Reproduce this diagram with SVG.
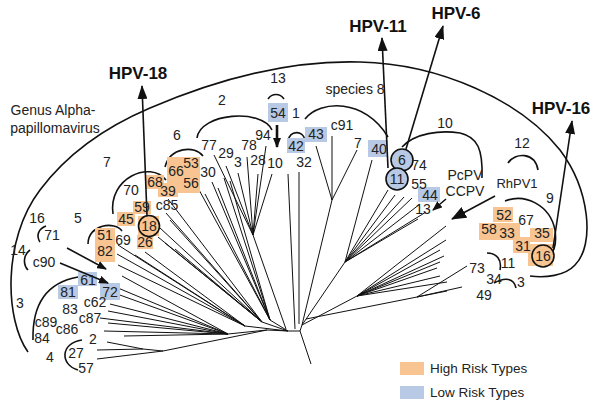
<svg xmlns="http://www.w3.org/2000/svg" width="596" height="404" viewBox="0 0 596 404">
<style>
.t{font-family:"Liberation Sans",Arial,sans-serif;font-size:14px;fill:#222;text-anchor:middle}
.b{font-family:"Liberation Sans",Arial,sans-serif;font-size:17px;font-weight:bold;fill:#111;text-anchor:middle}
.br{fill:none;stroke:#111;stroke-width:1.6}
.tr{fill:none;stroke:#111;stroke-width:1}
.ar{fill:none;stroke:#111;stroke-width:1.6}
.hi{fill:#f8c592}
.lo{fill:#b7c9e4}
.cir{stroke:#111;stroke-width:1.6}
</style>
<defs>
<marker id="big" viewBox="0 0 14 10" refX="13" refY="5" markerWidth="14" markerHeight="10" markerUnits="userSpaceOnUse" orient="auto"><path d="M0,0 L14,5 L0,10 z" fill="#111"/></marker>
<marker id="sm" viewBox="0 0 10 8" refX="9" refY="4" markerWidth="10" markerHeight="8" markerUnits="userSpaceOnUse" orient="auto"><path d="M0,0 L10,4 L0,8 z" fill="#111"/></marker>
<marker id="mid" viewBox="0 0 15 12" refX="14" refY="6" markerWidth="15" markerHeight="12" markerUnits="userSpaceOnUse" orient="auto"><path d="M0,0 L15,6 L0,12 z" fill="#111"/></marker>
</defs>
<rect width="596" height="404" fill="#fff"/>

<g id="tree" class="tr">
<path d="M300,331 L311,364 M288,331 L300,331 L302,325"/>
<path d="M228,334 L267,330 L288,331 M122,276 L228,334 M118,288 L228,334 M117,294 L228,334 M110,304 L228,334 M108,311 L228,334 M100,318 L228,334 M108,323 L228,334 M104,331 L228,334 M124,336 L228,334"/>
<path d="M107,342 L143,349 M97,350 L143,349 L163,351 M97,359 L163,351 L267,330"/>
<path d="M118,245 L245,326 M117,254 L245,326 M118,265 L245,326 M135,255 L245,326 M145,252 L245,326 M245,326 L288,331"/>
<path d="M168,199 L262,322 M166,213 L262,322 M170,220 L262,322 M160,228 L262,322 M158,237 L262,322 M165,243 L262,322 M175,249 L262,322 M262,322 L288,331"/>
<path d="M198,188 L270,320 M205,194 L270,320 M212,182 L270,320 M218,188 L270,320 M224,178 L270,320 M230,181 L270,320 M270,320 L288,331"/>
<path d="M214,155 L253,235 M226,166 L253,235 M238,173 L253,235 M247,157 L253,235 M258,174 L253,235 M266,146 L253,235 M272,174 L253,235 M253,235 L286,329"/>
<path d="M288,174 L295,329 M299,172 L299,324"/>
<path d="M332,136 L332,200 M316,146 L332,200 M357,150 L332,200 M332,200 L302,325"/>
<path d="M372,160 L345,262 M388,190 L345,262 M395,195 L345,262 M404,197 L345,262 M412,198 L345,262 M420,204 L345,262 M426,212 L345,262 M418,219 L345,262 M345,262 L302,325"/>
<path d="M446,226 L357,296 M446,240 L357,296 M440,250 L357,296 M444,256 L357,296 M440,262 L357,296 M437,268 L357,296 M440,276 L357,296 M447,282 L357,296 M357,296 L302,325"/>
<path d="M467,266 L417,297 M462,287 L417,297 M447,291 L417,297 M417,297 L306,319"/>
</g>

<g id="genus">
<path class="br" d="M28,352 C5,320 2,240 40,190 C70,150 110,125 150,108 C220,78 290,60 360,62 C440,64 520,100 560,150 C590,190 595,245 575,265 C565,276 545,278 530,276"/>
<text class="t" x="53" y="115">Genus Alpha-</text>
<text class="t" x="55" y="133">papillomavirus</text>
</g>

<g id="brackets" class="br">
<path d="M505,201 C525,193 550,205 555,230 C557,245 553,253 549,256"/>
<path d="M508,163 C515,152 535,152 538,170"/>
<path d="M402,147 C415,133 440,130 460,133 C478,137 483,150 482,178"/>
<path d="M305,119 C320,100 365,98 388,137"/>
<path d="M288,141 C290,130 303,130 305,140"/>
<path d="M268,99 C272,93 280,93 284,99"/>
<path d="M197,138 C200,113 262,108 272,130"/>
<path d="M165,167 C170,147 195,145 203,156"/>
<path d="M113,214 C108,178 150,160 166,180"/>
<path d="M88,244 C88,224 115,221 122,231"/>
<path d="M46,226 C38,229 36,236 40,242"/>
<path d="M30,250 C23,255 23,265 28,270"/>
<path d="M33,340 C32,300 50,282 78,277"/>
<path d="M82,340 C60,343 60,365 78,370"/>
<path d="M487,253 C497,253 502,260 500,270"/>
<path d="M494,283 C505,277 514,278 516,288"/>
</g>

<g id="highlights">
<rect class="hi" x="95" y="228" width="20" height="34"/>
<rect class="hi" x="117" y="212" width="18" height="14"/>
<rect class="hi" x="133" y="201" width="18" height="13"/>
<rect class="hi" x="137" y="235" width="16" height="14"/>
<rect class="hi" x="138" y="216" width="21" height="20"/>
<rect class="hi" x="145" y="175" width="19" height="14"/>
<rect class="hi" x="158" y="183" width="20" height="14"/>
<rect class="hi" x="167" y="157" width="33" height="36"/>
<rect class="hi" x="493" y="207" width="20" height="15"/>
<rect class="hi" x="479" y="223" width="41" height="17"/>
<rect class="hi" x="513" y="237" width="17" height="16"/>
<rect class="hi" x="530" y="228" width="23" height="14"/>
<rect class="hi" x="528" y="244" width="25" height="22"/>
<rect class="lo" x="78" y="272" width="19" height="14"/>
<rect class="lo" x="58" y="285" width="20" height="14"/>
<rect class="lo" x="100" y="283" width="20" height="17"/>
<rect class="lo" x="268" y="103" width="20" height="19"/>
<rect class="lo" x="287" y="138" width="18" height="15"/>
<rect class="lo" x="305" y="127" width="22" height="15"/>
<rect class="lo" x="368" y="140" width="20" height="17"/>
<rect class="lo" x="418" y="187" width="22" height="15"/>
</g>

<g id="circles">
<circle class="cir" cx="149" cy="226" r="10.5" fill="none"/>
<circle class="cir" cx="402" cy="160" r="11" fill="#b7c9e4"/>
<circle class="cir" cx="397" cy="179" r="11" fill="#b7c9e4"/>
<circle class="cir" cx="543" cy="256" r="11" fill="none"/>
</g>

<g id="arrows">
<line class="ar" x1="147" y1="216" x2="142" y2="86" marker-end="url(#big)"/>
<line class="ar" x1="388" y1="168" x2="382" y2="38" marker-end="url(#big)"/>
<line class="ar" x1="406" y1="149" x2="443" y2="26" marker-end="url(#big)"/>
<line class="ar" x1="553" y1="248" x2="572" y2="121" marker-end="url(#big)"/>
<line class="ar" x1="67" y1="248" x2="106" y2="269" marker-end="url(#sm)"/>
<line class="ar" x1="60" y1="263" x2="108" y2="283" marker-end="url(#sm)"/>
<line class="ar" x1="446" y1="199" x2="433" y2="210" marker-end="url(#sm)"/>
<line class="ar" x1="495" y1="196" x2="452" y2="219" marker-end="url(#mid)"/>
<line x1="277" y1="125" x2="277" y2="147" stroke="#111" stroke-width="2.6" marker-end="url(#sm)"/>
</g>

<g id="titles">
<text class="b" x="138" y="79">HPV-18</text>
<text class="b" x="378" y="32">HPV-11</text>
<text class="b" x="456" y="19">HPV-6</text>
<text class="b" x="561" y="114">HPV-16</text>
</g>

<g id="labels">
<text class="t" x="37" y="223">16</text>
<text class="t" x="52" y="240">71</text>
<text class="t" x="78" y="223">5</text>
<text class="t" x="18" y="255">14</text>
<text class="t" x="44" y="267">c90</text>
<text class="t" x="20" y="308">3</text>
<text class="t" x="68" y="297">81</text>
<text class="t" x="88" y="285">61</text>
<text class="t" x="110" y="297">72</text>
<text class="t" x="95" y="307">c62</text>
<text class="t" x="70" y="314">83</text>
<text class="t" x="90" y="323">c87</text>
<text class="t" x="46" y="327">c89</text>
<text class="t" x="67" y="334">c86</text>
<text class="t" x="42" y="343">84</text>
<text class="t" x="50" y="362">4</text>
<text class="t" x="93" y="344">2</text>
<text class="t" x="76" y="358">27</text>
<text class="t" x="86" y="373">57</text>
<text class="t" x="105" y="240">51</text>
<text class="t" x="105" y="256">82</text>
<text class="t" x="123" y="245">69</text>
<text class="t" x="145" y="247">26</text>
<text class="t" x="126" y="224">45</text>
<text class="t" x="142" y="212">59</text>
<text class="t" x="167" y="210">c85</text>
<text class="t" x="149" y="231">18</text>
<text class="t" x="131" y="195">70</text>
<text class="t" x="155" y="187">68</text>
<text class="t" x="168" y="196">39</text>
<text class="t" x="176" y="176">66</text>
<text class="t" x="191" y="168">53</text>
<text class="t" x="191" y="188">56</text>
<text class="t" x="208" y="177">30</text>
<text class="t" x="107" y="167">7</text>
<text class="t" x="177" y="140">6</text>
<text class="t" x="209" y="150">77</text>
<text class="t" x="226" y="158">29</text>
<text class="t" x="238" y="167">3</text>
<text class="t" x="249" y="150">78</text>
<text class="t" x="258" y="165">28</text>
<text class="t" x="263" y="140">94</text>
<text class="t" x="275" y="168">10</text>
<text class="t" x="222" y="105">2</text>
<text class="t" x="278" y="83">13</text>
<text class="t" x="278" y="118">54</text>
<text class="t" x="296" y="118">1</text>
<text class="t" x="296" y="151">42</text>
<text class="t" x="316" y="139">43</text>
<text class="t" x="304" y="167">32</text>
<text class="t" x="342" y="130">c91</text>
<text class="t" x="358" y="148">7</text>
<text class="t" x="355" y="94">species 8</text>
<text class="t" x="379" y="154">40</text>
<text class="t" x="402" y="165">6</text>
<text class="t" x="397" y="184">11</text>
<text class="t" x="419" y="170">74</text>
<text class="t" x="419" y="189">55</text>
<text class="t" x="445" y="128">10</text>
<text class="t" x="465" y="180">PcPV</text>
<text class="t" x="465" y="196">CCPV</text>
<text class="t" x="430" y="200">44</text>
<text class="t" x="423" y="214">13</text>
<text class="t" x="522" y="148">12</text>
<text class="t" x="517" y="188" style="font-size:13px">RhPV1</text>
<text class="t" x="504" y="220">52</text>
<text class="t" x="526" y="225">67</text>
<text class="t" x="550" y="203">9</text>
<text class="t" x="489" y="234">58</text>
<text class="t" x="507" y="238">33</text>
<text class="t" x="523" y="251">31</text>
<text class="t" x="542" y="238">35</text>
<text class="t" x="543" y="261">16</text>
<text class="t" x="508" y="268">11</text>
<text class="t" x="477" y="273">73</text>
<text class="t" x="494" y="284">34</text>
<text class="t" x="521" y="287">3</text>
<text class="t" x="484" y="300">49</text>
</g>

<g id="legend">
<rect class="hi" x="400" y="362" width="24" height="13"/>
<text class="t" x="430" y="373" style="font-size:13.5px;text-anchor:start">High Risk Types</text>
<rect class="lo" x="400" y="386" width="24" height="13"/>
<text class="t" x="430" y="397" style="font-size:13.5px;text-anchor:start">Low Risk Types</text>
</g>
</svg>
